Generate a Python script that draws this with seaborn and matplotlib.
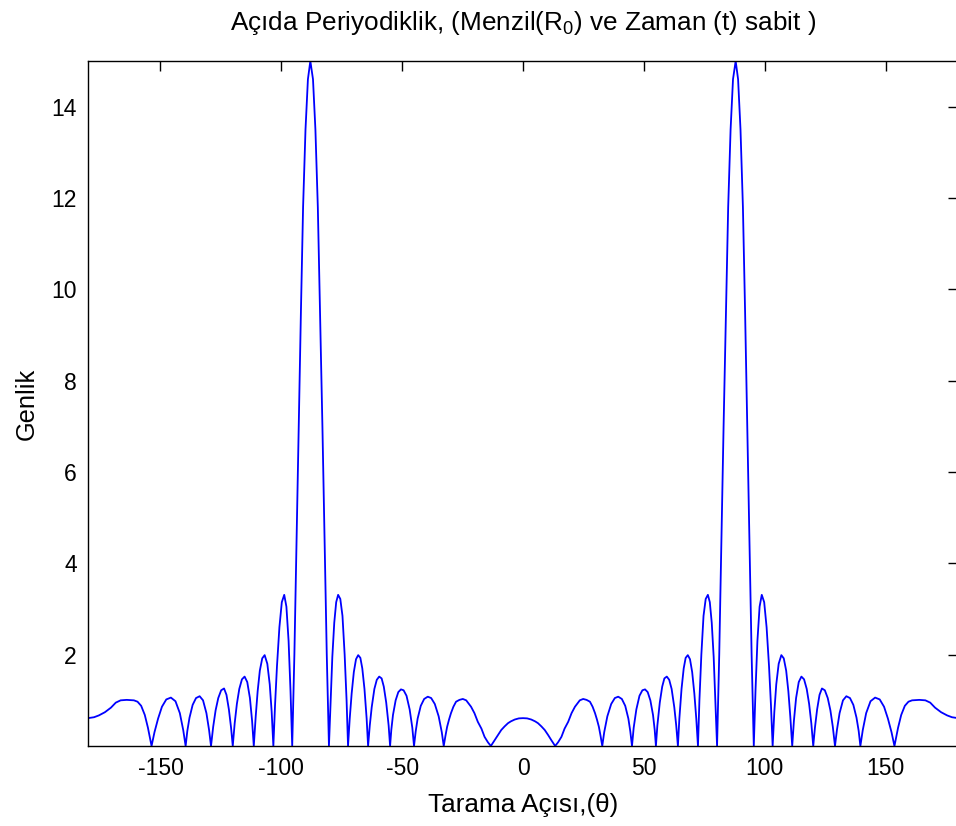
import numpy as np
import seaborn as sns
import matplotlib
matplotlib.use("Agg")
import matplotlib.pyplot as plt

# Right half of the pattern (theta >= 0); the chart is mirror-symmetric
theta_pos = [
    0, 1.7, 3.4, 5.0, 6.2, 7.6, 9.0, 10.4, 11.7, 13.3,
    14.5, 15.9, 17.2, 18.7, 20.1, 21.5, 23.5, 24.9, 26.3, 27.7, 28.8, 29.8, 30.6, 31.4, 32.1, 32.8,
    33.6, 34.9, 36.5, 38.0, 39.4, 40.9, 42.3, 43.6, 44.4, 45.1,
    45.8, 46.9, 48.2, 49.4, 50.5, 51.6, 52.7, 53.8, 54.5, 55.0,
    55.6, 56.6, 57.6, 58.5, 59.5, 60.5, 61.5, 62.6, 63.4, 64.1,
    64.7, 65.6, 66.5, 67.3, 68.2, 69.1, 70.0, 70.9, 71.7, 72.4,
    73.0, 73.8, 74.7, 75.6, 76.5, 77.3, 78.1, 78.9, 79.6, 80.3,
    81.2, 82.1, 83.0, 84.0, 84.9, 85.9, 86.9, 88.0,
    89.0, 90.0, 91.0, 91.9, 92.8, 93.7, 94.6, 95.5,
    96.2, 97.0, 97.9, 98.8, 99.8, 100.8, 101.8, 102.6, 103.3,
    104.0, 104.8, 105.8, 106.9, 107.9, 108.9, 109.8, 110.6, 111.4,
    112.1, 113.0, 114.1, 115.2, 116.3, 117.4, 118.4, 119.3, 120.1,
    120.8, 121.7, 122.7, 123.7, 124.9, 126.1, 127.2, 128.2, 129.1,
    129.9, 131.0, 132.4, 133.8, 135.3, 136.7, 138.0, 138.9, 139.6,
    140.6, 142.0, 143.8, 145.7, 147.6, 149.4, 151.0, 152.5, 153.7,
    155.2, 156.5, 158.0, 159.5, 161.0, 164.0, 166.5,
    168.5, 170.5, 173.0, 175.5, 177.5, 180.0,
]
amp_pos = [
    0.61, 0.605, 0.58, 0.54, 0.50, 0.43, 0.35, 0.24, 0.13, 0.0,
    0.08, 0.20, 0.38, 0.53, 0.72, 0.86, 1.00, 1.03, 1.01, 0.97, 0.86, 0.72, 0.58, 0.42, 0.22, 0.0,
    0.30, 0.65, 0.92, 1.05, 1.08, 1.03, 0.88, 0.60, 0.32, 0.0,
    0.40, 0.80, 1.10, 1.22, 1.24, 1.18, 1.00, 0.68, 0.35, 0.0,
    0.45, 0.95, 1.30, 1.48, 1.52, 1.45, 1.25, 0.85, 0.45, 0.0,
    0.60, 1.25, 1.70, 1.93, 1.99, 1.90, 1.62, 1.15, 0.60, 0.0,
    1.00, 2.00, 2.85, 3.22, 3.31, 3.15, 2.70, 1.95, 1.00, 0.0,
    2.0, 4.5, 7.0, 9.5, 11.8, 13.5, 14.6, 15.0,
    14.6, 13.5, 11.8, 9.5, 7.0, 4.5, 2.0, 0.0,
    1.20, 2.30, 3.05, 3.31, 3.15, 2.60, 1.75, 0.90, 0.0,
    0.75, 1.35, 1.80, 1.99, 1.92, 1.65, 1.20, 0.65, 0.0,
    0.55, 1.05, 1.40, 1.52, 1.46, 1.25, 0.92, 0.50, 0.0,
    0.40, 0.80, 1.12, 1.26, 1.22, 1.05, 0.78, 0.42, 0.0,
    0.35, 0.72, 1.00, 1.09, 1.05, 0.90, 0.62, 0.33, 0.0,
    0.35, 0.72, 0.98, 1.06, 1.02, 0.86, 0.60, 0.30, 0.0,
    0.40, 0.68, 0.88, 0.97, 1.00, 1.01, 1.00,
    0.95, 0.84, 0.74, 0.67, 0.63, 0.61,
]

x_ticks = [-150, -100, -50, 0, 50, 100, 150]
y_ticks = [2, 4, 6, 8, 10, 12, 14]

# mirror to get the full -180..180 sweep
tp = np.array(theta_pos)
ap = np.array(amp_pos)
theta = np.concatenate([-tp[::-1], tp[1:]])
amp = np.concatenate([ap[::-1], ap[1:]])

sns.set_style("white")
plt.rcParams["font.family"] = ["Liberation Sans", "DejaVu Sans"]
plt.rcParams["mathtext.fontset"] = "custom"
plt.rcParams["mathtext.rm"] = "Liberation Sans"
plt.rcParams["mathtext.it"] = "Liberation Sans"
plt.rcParams["axes.unicode_minus"] = False
plt.rcParams["text.color"] = "black"
plt.rcParams["axes.labelcolor"] = "black"

fig = plt.figure(figsize=(9.56, 8.26), dpi=100)
ax = fig.add_axes([88 / 956, 80 / 826, 870 / 956, 685 / 826])

sns.lineplot(x=theta, y=amp, ax=ax, sort=False, estimator=None,
             color="#0000ff", linewidth=1.3)

ax.set_xlim(-180, 180)
ax.set_ylim(0, 15)
ax.set_xticks(x_ticks)
ax.set_yticks(y_ticks)
ax.tick_params(direction="in", length=7, width=1, labelsize=16.5,
               top=True, right=True, colors="black", pad=8)
for s in ax.spines.values():
    s.set_visible(True)
    s.set_color("black")
    s.set_linewidth(1.0)

ax.set_title("Açıda Periyodiklik, (Menzil(R$_0$) ve Zaman (t) sabit )",
             fontsize=18.8, pad=22, color="black")
ax.set_xlabel("Tarama Açısı,(θ)", fontsize=18.8, labelpad=9)
ax.set_ylabel("Genlik", fontsize=18.3, labelpad=9)

fig.savefig("out.png", dpi=100, facecolor="white")
